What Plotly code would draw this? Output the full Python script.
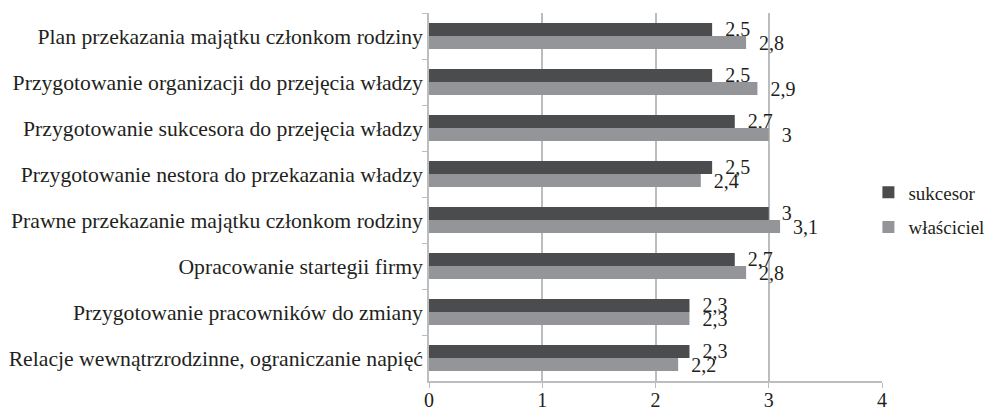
import plotly.graph_objects as go

categories = [
    "Plan przekazania majątku członkom rodziny",
    "Przygotowanie organizacji do przejęcia władzy",
    "Przygotowanie sukcesora do przejęcia władzy",
    "Przygotowanie nestora do przekazania władzy",
    "Prawne przekazanie majątku członkom rodziny",
    "Opracowanie startegii firmy",
    "Przygotowanie pracowników do zmiany",
    "Relacje wewnątrzrodzinne, ograniczanie napięć",
]
sukcesor = [2.5, 2.5, 2.7, 2.5, 3, 2.7, 2.3, 2.3]
wlasciciel = [2.8, 2.9, 3, 2.4, 3.1, 2.8, 2.3, 2.2]
x_ticks = [0, 1, 2, 3, 4]


def labels(vals):
    return ["  " + str(v).replace(".", ",") for v in vals]


fig = go.Figure()
fig.add_trace(go.Bar(
    y=categories, x=sukcesor, orientation="h", name="sukcesor", legendgroup="a",
    marker=dict(color="#4b4c4e", line=dict(width=0)),
    text=labels(sukcesor), textposition="outside", cliponaxis=False,
    constraintext="none", textfont=dict(size=20, color="#231f20"),
))
fig.add_trace(go.Bar(
    y=categories, x=wlasciciel, orientation="h", name="właściciel", legendgroup="b",
    marker=dict(color="#949598", line=dict(width=0)),
    text=labels(wlasciciel), textposition="outside", cliponaxis=False,
    constraintext="none", textfont=dict(size=20, color="#231f20"),
))

# page body has an 8px margin, so margins are shifted by 8px
fig.update_layout(
    width=994, height=413,
    margin=dict(l=421, r=120, t=5, b=40, autoexpand=False),
    barmode="group", bargap=0.43, bargroupgap=0,
    plot_bgcolor="white", paper_bgcolor="white",
    font=dict(family="Liberation Serif, Times New Roman, serif", size=20, color="#231f20"),
    legend=dict(x=0.97, y=0.465, yanchor="middle", xanchor="left", bgcolor="rgba(0,0,0,0)",
                font=dict(size=19), traceorder="grouped", tracegroupgap=7, itemwidth=30),
    showlegend=True,
)
fig.update_xaxes(
    range=[0, 4], tickvals=x_ticks, showgrid=True, gridcolor="#bcbdbf", gridwidth=1.5,
    zeroline=False, showline=True, linecolor="#bcbdbf", linewidth=1.5,
    ticks="outside", ticklen=5, tickcolor="#bcbdbf", ticklabelstandoff=-5,
)
fig.update_yaxes(
    autorange="reversed", showline=True, linecolor="#bcbdbf", linewidth=1.5,
    ticks="outside", tickson="boundaries", ticklen=5, tickcolor="#bcbdbf",
    showgrid=False, tickfont=dict(size=21.7),
)

fig.write_html("out.html")
